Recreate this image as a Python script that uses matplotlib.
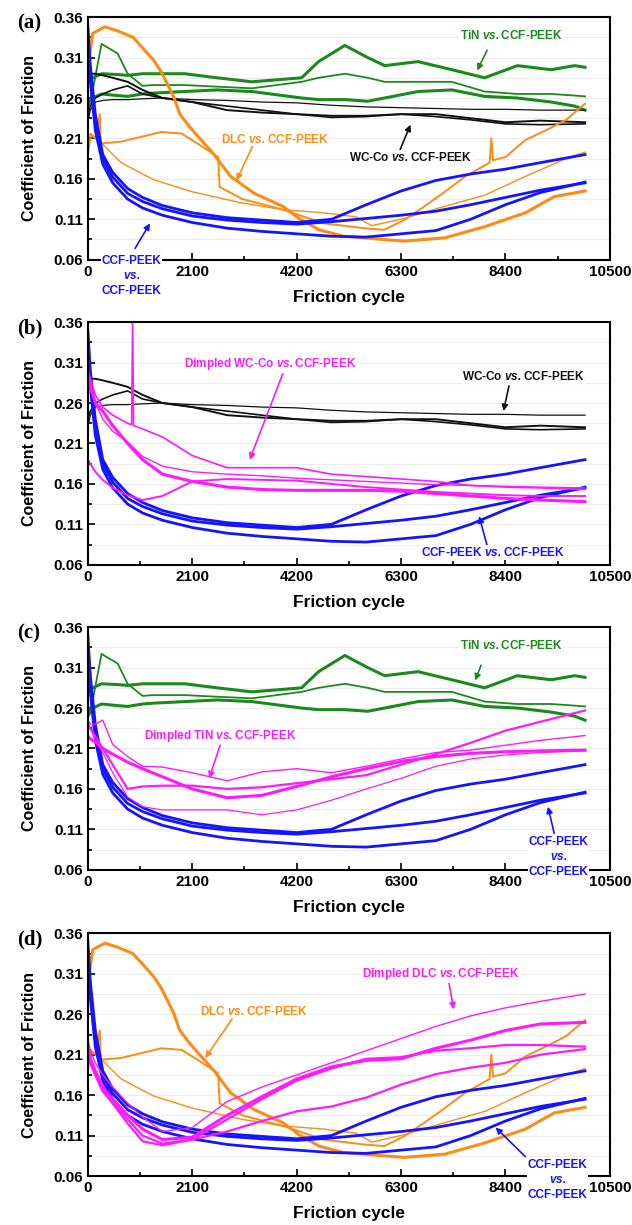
import matplotlib
matplotlib.use("Agg")
import matplotlib.pyplot as plt
from matplotlib.ticker import FixedLocator, FormatStrFormatter

plt.rcParams['font.family'] = ['Liberation Sans', 'DejaVu Sans']
plt.rcParams['font.weight'] = 'bold'
plt.rcParams['mathtext.fontset'] = 'custom'
plt.rcParams['mathtext.bfit'] = 'Liberation Sans:italic:bold'
plt.rcParams['mathtext.rm'] = 'Liberation Sans:bold'

# common cycle grid used by most curves
cycles = [0, 50, 150, 300, 500, 800, 1100, 1500, 2100, 2800, 3500, 4200,
          4900, 5600, 6300, 7000, 7700, 8400, 9100, 10000]

# CCF-PEEK vs. CCF-PEEK (three runs)
ccf_1 = [0.35, 0.30, 0.24, 0.19, 0.168, 0.148, 0.137, 0.127, 0.118, 0.112, 0.109, 0.106,
         0.110, 0.128, 0.145, 0.158, 0.166, 0.172, 0.180, 0.190]
ccf_2 = [0.34, 0.29, 0.23, 0.185, 0.162, 0.142, 0.132, 0.123, 0.114, 0.109, 0.106, 0.104,
         0.107, 0.111, 0.115, 0.120, 0.128, 0.137, 0.146, 0.155]
ccf_3 = [0.33, 0.28, 0.22, 0.178, 0.155, 0.135, 0.124, 0.115, 0.106, 0.099, 0.095, 0.092,
         0.089, 0.088, 0.092, 0.096, 0.110, 0.128, 0.143, 0.156]

# WC-Co vs. CCF-PEEK
wc_1 = [0.29, 0.29, 0.29, 0.288, 0.285, 0.28, 0.27, 0.26, 0.255, 0.245, 0.242, 0.24,
        0.238, 0.238, 0.24, 0.24, 0.235, 0.23, 0.232, 0.23]
wc_2 = [0.23, 0.245, 0.255, 0.257, 0.258, 0.258, 0.259, 0.26, 0.258, 0.257, 0.255, 0.254,
        0.251, 0.249, 0.248, 0.247, 0.246, 0.246, 0.245, 0.245]
wc_3 = [0.24, 0.25, 0.26, 0.265, 0.27, 0.275, 0.265, 0.26, 0.255, 0.25, 0.245, 0.24,
        0.236, 0.237, 0.24, 0.237, 0.233, 0.228, 0.227, 0.228]

# TiN vs. CCF-PEEK
tin_cycles = [0, 100, 275, 600, 800, 1100, 1300, 1950, 2600, 3300, 4300, 4640, 5170,
              5630, 5970, 6640, 7320, 7980, 8640, 9320, 9790, 10000]
tin_1 = [0.28, 0.285, 0.29, 0.289, 0.288, 0.29, 0.29, 0.29, 0.285, 0.28, 0.285, 0.305,
         0.325, 0.31, 0.30, 0.305, 0.295, 0.285, 0.30, 0.295, 0.30, 0.298]
tin_2 = [0.25, 0.27, 0.327, 0.315, 0.29, 0.275, 0.276, 0.276, 0.274, 0.272, 0.28, 0.285,
         0.29, 0.285, 0.28, 0.28, 0.28, 0.268, 0.265, 0.265, 0.263, 0.262]
tin_3 = [0.25, 0.26, 0.265, 0.263, 0.262, 0.265, 0.266, 0.268, 0.27, 0.268, 0.26, 0.258,
         0.258, 0.256, 0.26, 0.268, 0.27, 0.262, 0.26, 0.255, 0.25, 0.245]

# DLC vs. CCF-PEEK
dlc1_cycles = [0, 100, 340, 600, 910, 1320, 1480, 1730, 1850, 2050, 2540, 2870, 3350,
               3920, 4250, 4650, 5140, 6360, 7180, 7990, 8800, 9380, 10000]
dlc_1 = [0.30, 0.34, 0.348, 0.343, 0.335, 0.307, 0.292, 0.261, 0.24, 0.224, 0.19, 0.163,
         0.142, 0.126, 0.111, 0.097, 0.089, 0.083, 0.087, 0.101, 0.118, 0.138, 0.145]
dlc2_cycles = [0, 60, 150, 240, 260, 300, 670, 1480, 1890, 2300, 2620, 2650, 3110, 3920,
               4740, 5550, 5960, 6360, 6770, 7180, 7590, 8080, 8115, 8150, 8400, 8800,
               9210, 9620, 10000]
dlc_2 = [0.19, 0.215, 0.21, 0.24, 0.205, 0.204, 0.206, 0.218, 0.216, 0.20, 0.187, 0.15,
         0.135, 0.122, 0.105, 0.099, 0.097, 0.109, 0.126, 0.144, 0.163, 0.18, 0.21, 0.183,
         0.187, 0.208, 0.22, 0.233, 0.253]
dlc3_cycles = [0, 60, 340, 670, 1320, 2100, 3110, 3920, 4740, 5390, 5710, 6360, 7180,
               7990, 8800, 9620, 10000]
dlc_3 = [0.21, 0.216, 0.2, 0.18, 0.159, 0.144, 0.13, 0.122, 0.118, 0.113, 0.102, 0.111,
         0.126, 0.14, 0.163, 0.185, 0.193]

# Dimpled WC-Co vs. CCF-PEEK
dwc1_cycles = [0, 50, 150, 300, 500, 800, 880, 900, 920, 1100, 1500, 2100, 2800, 3500,
               4200, 4900, 5600, 6300, 7000, 7700, 8400, 9100, 10000]
dwc_1 = [0.30, 0.29, 0.27, 0.255, 0.245, 0.235, 0.233, 0.36, 0.232, 0.228, 0.218, 0.195,
         0.18, 0.18, 0.18, 0.172, 0.169, 0.166, 0.163, 0.158, 0.156, 0.155, 0.153]
dwc_2 = [0.29, 0.28, 0.26, 0.24, 0.225, 0.212, 0.194, 0.182, 0.175, 0.172, 0.17, 0.167,
         0.165, 0.163, 0.161, 0.159, 0.158, 0.157, 0.156, 0.155]
dwc_3 = [0.30, 0.28, 0.26, 0.25, 0.232, 0.21, 0.19, 0.172, 0.163, 0.156, 0.153, 0.152,
         0.152, 0.152, 0.151, 0.148, 0.145, 0.142, 0.14, 0.138]
dwc_4 = [0.19, 0.185, 0.175, 0.165, 0.155, 0.146, 0.14, 0.145, 0.163, 0.166, 0.165, 0.164,
         0.16, 0.156, 0.153, 0.15, 0.148, 0.146, 0.145, 0.145]

# Dimpled TiN vs. CCF-PEEK
dtin_1 = [0.225, 0.222, 0.218, 0.21, 0.203, 0.193, 0.185, 0.175, 0.16, 0.149, 0.152, 0.163,
          0.175, 0.185, 0.194, 0.2, 0.204, 0.206, 0.207, 0.208]
dtin_2 = [0.245, 0.24, 0.24, 0.245, 0.215, 0.2, 0.188, 0.187, 0.18, 0.17, 0.181, 0.185,
          0.18, 0.188, 0.197, 0.205, 0.208, 0.214, 0.22, 0.226]
dtin_3 = [0.24, 0.235, 0.225, 0.21, 0.19, 0.16, 0.163, 0.164, 0.164, 0.16, 0.162, 0.167,
          0.172, 0.177, 0.19, 0.203, 0.217, 0.232, 0.243, 0.257]
dtin_4 = [0.24, 0.235, 0.22, 0.205, 0.18, 0.15, 0.138, 0.134, 0.134, 0.134, 0.128, 0.134,
          0.146, 0.16, 0.173, 0.188, 0.197, 0.202, 0.205, 0.207]

# Dimpled DLC vs. CCF-PEEK
ddlc_1 = [0.23, 0.215, 0.2, 0.185, 0.17, 0.15, 0.133, 0.115, 0.12, 0.152, 0.17, 0.185,
          0.2, 0.215, 0.23, 0.245, 0.258, 0.268, 0.276, 0.285]
ddlc_2 = [0.22, 0.205, 0.19, 0.17, 0.155, 0.135, 0.118, 0.105, 0.108, 0.135, 0.158, 0.18,
          0.195, 0.203, 0.205, 0.218, 0.228, 0.24, 0.248, 0.25]
ddlc_3 = [0.21, 0.2, 0.185, 0.165, 0.15, 0.125, 0.103, 0.098, 0.105, 0.13, 0.155, 0.178,
          0.193, 0.205, 0.207, 0.215, 0.218, 0.222, 0.222, 0.22]
ddlc_4 = [0.215, 0.2, 0.185, 0.165, 0.15, 0.13, 0.11, 0.1, 0.105, 0.115, 0.128, 0.14,
          0.146, 0.157, 0.173, 0.186, 0.194, 0.2, 0.21, 0.217]

x_ticks = [0, 2100, 4200, 6300, 8400, 10500]
y_ticks = [0.06, 0.11, 0.16, 0.21, 0.26, 0.31, 0.36]

BLUE = '#1414ff'
GREEN = '#1a8a1a'
BLACK = '#111111'
ORANGE = '#ff8a14'
MAGENTA = '#ff19ff'
VS = '$\\mathbfit{vs.}$'


def plot_ccf(ax):
    ax.plot(cycles, ccf_1, color=BLUE, lw=2.0)
    ax.plot(cycles, ccf_2, color=BLUE, lw=2.0)
    ax.plot(cycles, ccf_3, color=BLUE, lw=2.0)


def plot_wc(ax):
    ax.plot(cycles, wc_1, color=BLACK, lw=1.4)
    ax.plot(cycles, wc_2, color=BLACK, lw=0.9)
    ax.plot(cycles, wc_3, color=BLACK, lw=1.2)


def plot_tin(ax):
    ax.plot(tin_cycles, tin_1, color=GREEN, lw=2.2)
    ax.plot(tin_cycles, tin_2, color=GREEN, lw=1.3)
    ax.plot(tin_cycles, tin_3, color=GREEN, lw=2.2)


def plot_dlc(ax):
    ax.plot(dlc1_cycles, dlc_1, color=ORANGE, lw=2.2)
    ax.plot(dlc2_cycles, dlc_2, color=ORANGE, lw=1.4)
    ax.plot(dlc3_cycles, dlc_3, color=ORANGE, lw=1.0)


def note(ax, text, xy, xytext, color, tx):
    ax.annotate('', xy=xy, xytext=xytext,
                arrowprops=dict(arrowstyle='-|>', color=color, lw=1.2,
                                mutation_scale=9, shrinkA=0, shrinkB=0))
    ax.text(tx[0], tx[1], text, color=color, fontsize=8.5, fontweight='bold',
            ha='center', va='center', zorder=10, clip_on=False, linespacing=1.35,
            bbox=dict(facecolor='white', edgecolor='none', pad=0.5))


def style(ax, letter):
    ax.set_xlim(0, 10500)
    ax.set_ylim(0.06, 0.36)
    ax.xaxis.set_major_locator(FixedLocator(x_ticks))
    ax.xaxis.set_minor_locator(FixedLocator([t + 1050 for t in x_ticks[:-1]]))
    ax.yaxis.set_major_locator(FixedLocator(y_ticks))
    ax.yaxis.set_minor_locator(FixedLocator([t + 0.025 for t in y_ticks[:-1]]))
    ax.yaxis.set_major_formatter(FormatStrFormatter('%.2f'))
    ax.tick_params(which='both', direction='in', width=1.2, labelsize=11)
    ax.tick_params(which='major', length=5)
    ax.tick_params(which='minor', length=3)
    for lab in ax.get_xticklabels() + ax.get_yticklabels():
        lab.set_fontweight('bold')
    for sp in ax.spines.values():
        sp.set_linewidth(1.5)
    ax.grid(True, axis='y', which='both', color='#ececec', lw=0.8)
    ax.set_axisbelow(True)
    ax.set_xlabel('Friction cycle', fontsize=12.5, fontweight='bold', labelpad=8)
    ax.set_ylabel('Coefficient of Friction', fontsize=11.5, fontweight='bold', labelpad=12)
    ax.text(-0.135, 0.975, letter, transform=ax.transAxes, fontsize=15,
            fontweight='bold', family=['Liberation Serif', 'DejaVu Serif'],
            ha='left', va='center')


def main():
    fig = plt.figure(figsize=(6.32, 12.25), dpi=100)
    left, width, height = 0.139, 0.826, 0.198
    ax_a = fig.add_axes([left, 0.788, width, height])
    ax_b = fig.add_axes([left, 0.539, width, height])
    ax_c = fig.add_axes([left, 0.290, width, height])
    ax_d = fig.add_axes([left, 0.040, width, height])

    # (a)
    plot_tin(ax_a)
    plot_wc(ax_a)
    plot_dlc(ax_a)
    plot_ccf(ax_a)
    style(ax_a, '(a)')
    note(ax_a, 'TiN ' + VS + 'CCF-PEEK', (7830, 0.294), (8030, 0.319), GREEN,
         (8520, 0.337))
    note(ax_a, 'DLC ' + VS + 'CCF-PEEK', (2990, 0.158), (3310, 0.200), ORANGE,
         (3770, 0.209))
    note(ax_a, 'WC-Co ' + VS + 'CCF-PEEK', (6490, 0.227), (6280, 0.196), BLACK,
         (6490, 0.187))
    note(ax_a, 'CCF-PEEK\n' + VS + '\nCCF-PEEK', (1250, 0.105), (950, 0.074), BLUE,
         (880, 0.040))

    # (b)
    plot_wc(ax_b)
    plot_ccf(ax_b)
    ax_b.plot(dwc1_cycles, dwc_1, color=MAGENTA, lw=1.2)
    ax_b.plot(cycles, dwc_2, color=MAGENTA, lw=1.0)
    ax_b.plot(cycles, dwc_3, color=MAGENTA, lw=2.2)
    ax_b.plot(cycles, dwc_4, color=MAGENTA, lw=1.4)
    style(ax_b, '(b)')
    note(ax_b, 'Dimpled WC-Co ' + VS + 'CCF-PEEK', (3255, 0.190), (3920, 0.296),
         MAGENTA, (3680, 0.308))
    note(ax_b, 'WC-Co ' + VS + 'CCF-PEEK', (8360, 0.250), (8470, 0.281), BLACK,
         (8770, 0.293))
    note(ax_b, 'CCF-PEEK ' + VS + 'CCF-PEEK', (7870, 0.120), (8030, 0.084), BLUE,
         (8140, 0.075))

    # (c)
    plot_tin(ax_c)
    plot_ccf(ax_c)
    ax_c.plot(cycles, dtin_1, color=MAGENTA, lw=2.2)
    ax_c.plot(cycles, dtin_2, color=MAGENTA, lw=1.0)
    ax_c.plot(cycles, dtin_3, color=MAGENTA, lw=1.6)
    ax_c.plot(cycles, dtin_4, color=MAGENTA, lw=0.9)
    style(ax_c, '(c)')
    note(ax_c, 'TiN ' + VS + 'CCF-PEEK', (7790, 0.294), (7910, 0.313), GREEN,
         (8520, 0.337))
    note(ax_c, 'Dimpled TiN ' + VS + 'CCF-PEEK', (2440, 0.173), (2660, 0.214),
         MAGENTA, (2660, 0.226))
    note(ax_c, 'CCF-PEEK\n' + VS + '\nCCF-PEEK', (9255, 0.138), (9380, 0.105), BLUE,
         (9460, 0.076))

    # (d)
    plot_dlc(ax_d)
    plot_ccf(ax_d)
    ax_d.plot(cycles, ddlc_1, color=MAGENTA, lw=1.0)
    ax_d.plot(cycles, ddlc_2, color=MAGENTA, lw=2.2)
    ax_d.plot(cycles, ddlc_3, color=MAGENTA, lw=1.6)
    ax_d.plot(cycles, ddlc_4, color=MAGENTA, lw=1.6)
    style(ax_d, '(d)')
    note(ax_d, 'Dimpled DLC ' + VS + 'CCF-PEEK', (7360, 0.266), (7260, 0.300),
         MAGENTA, (7110, 0.310))
    note(ax_d, 'DLC ' + VS + 'CCF-PEEK', (2360, 0.206), (2900, 0.254), ORANGE,
         (3340, 0.264))
    note(ax_d, 'CCF-PEEK\n' + VS + '\nCCF-PEEK', (8200, 0.120), (8800, 0.084), BLUE,
         (9440, 0.055))

    fig.savefig('out.png', dpi=100)


if __name__ == "__main__":
    main()
